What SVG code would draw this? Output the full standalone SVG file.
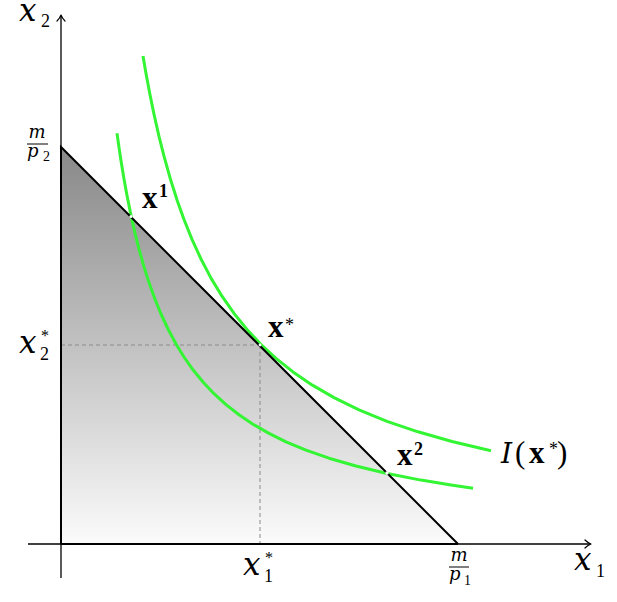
<svg xmlns="http://www.w3.org/2000/svg" width="617" height="602" viewBox="0 0 617 602">
<style>
.ax{stroke:#000;stroke-width:1.3;fill:none}
.arr{stroke:#000;stroke-width:1.2;fill:none;stroke-linecap:round;stroke-linejoin:round}
.ic{stroke:#33f533;stroke-width:3;fill:none;stroke-linejoin:round;stroke-linecap:butt}
.dash{stroke:#8a8a8a;stroke-width:1;stroke-dasharray:4,3;fill:none}
.t{font-family:"Liberation Serif",serif;fill:#000}
.it{font-family:"DejaVu Serif","Liberation Serif",serif;font-style:italic}
.bf{font-weight:bold}
.big{font-size:31px}
.ibig{font-size:31px}
.icap{font-size:28px}
.sm{font-size:18px}
.st{font-size:16px}
.fr{font-size:18px}
.frs{font-size:14px}
</style>
<defs>
<linearGradient id="shade" x1="0" y1="147" x2="0" y2="544" gradientUnits="userSpaceOnUse">
<stop offset="0" stop-color="#888888"/>
<stop offset="1" stop-color="#fbfbfb"/>
</linearGradient>
</defs>
<rect width="617" height="602" fill="#fff"/>
<g id="budget-set">
<polygon points="61,147 61,544 458,544" fill="url(#shade)"/>
</g>
<g id="guides">
<line class="dash" x1="61" y1="345" x2="260" y2="345"/>
<line class="dash" x1="260" y1="345" x2="260" y2="544"/>
</g>
<g id="axes">
<line class="ax" x1="61" y1="578" x2="61" y2="16"/>
<path class="arr" d="M57,21 Q60,18 61,15 Q62,18 65,21"/>
<line class="ax" x1="28" y1="544" x2="590" y2="544"/>
<path class="arr" d="M585,540 Q588,543 591,544 Q588,545 585,548"/>
</g>
<g id="indifference-curves">
<path id="curve-inner" class="ic" d="M117,133.3 L119,147.4 L121,160.7 L124,178.9 L127,195.5 L131,215.4 L135,233.2 L139,249.1 L144,266.9 L149,282.6 L155,299.3 L161,314 L168,329 L176,344 L184,357 L193,369.8 L203,382 L214,393.7 L226,404.6 L239,414.8 L253,424.2 L269,433.4 L286,441.8 L306,450.1 L329,458.2 L356,466 L386,473.2 L421,480.1 L451,485 L473,488.2"/>
<path id="curve-outer" class="ic" transform="translate(1,-1.5)" d="M142,57.6 L145,74.9 L149,96.2 L153,115.7 L158,137.8 L163,157.7 L169,179.2 L176,201.4 L183,221 L191,240.9 L200,260.5 L210,279.6 L221,297.7 L233,314.9 L246,331 L260,346 L275,359.9 L292,373.4 L311,386.4 L333,399.1 L358,411.3 L386,422.8 L417,433.3 L451,443 L490,452.2"/>
</g>
<g id="budget-line">
<polyline points="61,544 61,147 458,544" fill="none" stroke="#000" stroke-width="2"/>
<line x1="61" y1="544" x2="458" y2="544" stroke="#000" stroke-width="2"/>
<circle cx="131" cy="216.5" r="1.6" fill="#fff"/>
<circle cx="260" cy="345" r="1.4" fill="#fff"/>
<circle cx="387" cy="473" r="1.8" fill="#fff"/>
</g>
<g id="labels">
<text class="t it ibig" x="19" y="21">x</text><text class="t sm" x="41" y="27">2</text>
<text class="t it fr" x="37" y="138" text-anchor="middle">m</text>
<line x1="27" y1="144" x2="48" y2="144" stroke="#000" stroke-width="1"/>
<text class="t it fr" x="27" y="157">p</text><text class="t frs" x="43" y="161">2</text>
<text class="t it ibig" x="19" y="353">x</text><text class="t sm" x="40" y="360">2</text><text class="t st" x="41" y="341">*</text>
<text class="t it ibig" x="243" y="575">x</text><text class="t sm" x="264" y="582">1</text><text class="t st" x="265" y="563">*</text>
<text class="t it fr" x="459" y="561" text-anchor="middle">m</text>
<line x1="449" y1="567" x2="469" y2="567" stroke="#000" stroke-width="1"/>
<text class="t it fr" x="449" y="580">p</text><text class="t frs" x="464" y="585">1</text>
<text class="t it ibig" x="574" y="570">x</text><text class="t sm" x="596" y="577">1</text>
<text class="t bf big" x="142" y="208">x</text><text class="t bf sm" x="159" y="197">1</text>
<text class="t bf big" x="268" y="337">x</text><text class="t sm" x="285" y="331">*</text>
<text class="t bf big" x="397" y="465">x</text><text class="t bf sm" x="414" y="455">2</text>
<text class="t it icap" x="501" y="463">I</text><text class="t big" x="515" y="463">(</text><text class="t bf big" x="529" y="463">x</text><text class="t sm" x="549" y="455">*</text><text class="t big" x="557" y="463">)</text>
</g>
</svg>
